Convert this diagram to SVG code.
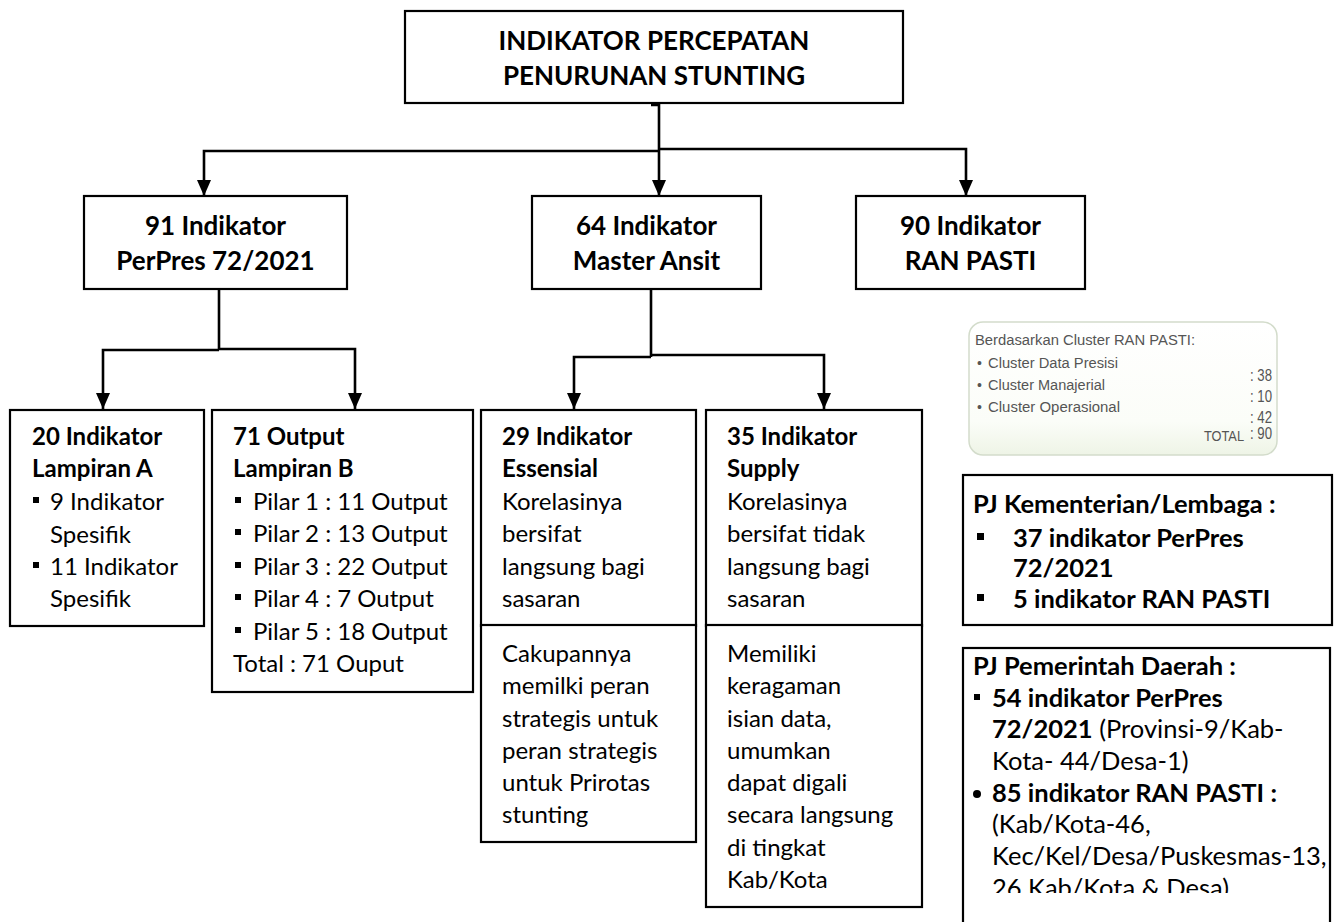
<svg xmlns="http://www.w3.org/2000/svg" width="1338" height="922" viewBox="0 0 1338 922">
<style>
.box{fill:#fff;stroke:#000;stroke-width:2.2}
.t{font-family:Lato,"Open Sans","Liberation Sans",sans-serif;fill:#000}
.b{font-weight:bold}
.h{font-size:26px;font-weight:bold}
.r{font-size:24px}
.pj{font-size:25.5px}
.c{font-family:"Liberation Sans",Arial,sans-serif;font-size:14px;fill:#555}
.n{font-family:"Liberation Sans",Arial,sans-serif;font-size:16px;fill:#555}
.ln{fill:none;stroke:#000;stroke-width:2.6;marker-end:url(#arr)}
.ln0{fill:none;stroke:#000;stroke-width:2.6}
.bul{fill:#000}
</style>
<defs>
<marker id="arr" markerUnits="userSpaceOnUse" viewBox="0 0 16 14" markerWidth="16" markerHeight="14" refX="16" refY="7" orient="auto">
<path d="M0,0 L16,7 L0,14 z" fill="#000"/>
</marker>
<linearGradient id="cardg" x1="0" y1="0" x2="0" y2="1">
<stop offset="0" stop-color="#ffffff"/>
<stop offset="0.75" stop-color="#fbfdf8"/>
<stop offset="1" stop-color="#eef4e6"/>
</linearGradient>
<clipPath id="cut"><rect x="0" y="0" width="1338" height="893"/></clipPath>
</defs>

<g id="top">
<rect class="box" x="405" y="11" width="498" height="92" stroke-width="2.6"/>
<text class="t h" x="654" y="50" text-anchor="middle">INDIKATOR PERCEPATAN</text>
<text class="t h" x="654" y="85" text-anchor="middle">PENURUNAN STUNTING</text>
</g>

<g id="perpres">
<rect class="box" x="84" y="196" width="263" height="93"/>
<text class="t h" x="215.5" y="235" text-anchor="middle">91 Indikator</text>
<text class="t h" x="215.5" y="270" text-anchor="middle">PerPres 72/2021</text>
</g>

<g id="ansit">
<rect class="box" x="532" y="196" width="229" height="93"/>
<text class="t h" x="646.5" y="235" text-anchor="middle">64 Indikator</text>
<text class="t h" x="646.5" y="270" text-anchor="middle">Master Ansit</text>
</g>

<g id="ranpasti">
<rect class="box" x="856" y="196" width="229" height="93"/>
<text class="t h" x="970.5" y="235" text-anchor="middle">90 Indikator</text>
<text class="t h" x="970.5" y="270" text-anchor="middle">RAN PASTI</text>
</g>

<g id="lampiranA">
<rect class="box" x="10" y="410" width="194" height="216"/>
<text class="t r b" x="32" y="445">20 Indikator</text>
<text class="t r b" x="32" y="477">Lampiran A</text>
<rect class="bul" x="33" y="497" width="6" height="6"/>
<text class="t r" x="50" y="510">9 Indikator</text>
<text class="t r" x="50" y="543">Spesifik</text>
<rect class="bul" x="33" y="562" width="6" height="6"/>
<text class="t r" x="50" y="575">11 Indikator</text>
<text class="t r" x="50" y="607">Spesifik</text>
</g>

<g id="lampiranB">
<rect class="box" x="212" y="410" width="261" height="282"/>
<text class="t r b" x="233" y="445">71 Output</text>
<text class="t r b" x="233" y="477">Lampiran B</text>
<rect class="bul" x="235" y="497" width="6" height="6"/>
<text class="t r" x="253" y="510">Pilar 1 : 11 Output</text>
<rect class="bul" x="235" y="529" width="6" height="6"/>
<text class="t r" x="253" y="542">Pilar 2 : 13 Output</text>
<rect class="bul" x="235" y="562" width="6" height="6"/>
<text class="t r" x="253" y="575">Pilar 3 : 22 Output</text>
<rect class="bul" x="235" y="594" width="6" height="6"/>
<text class="t r" x="253" y="607">Pilar 4 : 7 Output</text>
<rect class="bul" x="235" y="627" width="6" height="6"/>
<text class="t r" x="253" y="640">Pilar 5 : 18 Output</text>
<text class="t r" x="233" y="672">Total : 71 Ouput</text>
</g>

<g id="essensial">
<rect class="box" x="481" y="410" width="215" height="216"/>
<text class="t r b" x="502" y="445">29 Indikator</text>
<text class="t r b" x="502" y="477">Essensial</text>
<text class="t r" x="502" y="510">Korelasinya</text>
<text class="t r" x="502" y="542">bersifat</text>
<text class="t r" x="502" y="575">langsung bagi</text>
<text class="t r" x="502" y="607">sasaran</text>
</g>

<g id="essensial-cakupan">
<rect class="box" x="481" y="625" width="215" height="217"/>
<text class="t r" x="502" y="662">Cakupannya</text>
<text class="t r" x="502" y="694">memilki peran</text>
<text class="t r" x="502" y="727">strategis untuk</text>
<text class="t r" x="502" y="759">peran strategis</text>
<text class="t r" x="502" y="791">untuk Prirotas</text>
<text class="t r" x="502" y="823">stunting</text>
</g>

<g id="supply">
<rect class="box" x="706" y="410" width="216" height="216"/>
<text class="t r b" x="727" y="445">35 Indikator</text>
<text class="t r b" x="727" y="477">Supply</text>
<text class="t r" x="727" y="510">Korelasinya</text>
<text class="t r" x="727" y="542">bersifat tidak</text>
<text class="t r" x="727" y="575">langsung bagi</text>
<text class="t r" x="727" y="607">sasaran</text>
</g>

<g id="supply-keragaman">
<rect class="box" x="706" y="625" width="216" height="282"/>
<text class="t r" x="727" y="662">Memiliki</text>
<text class="t r" x="727" y="694">keragaman</text>
<text class="t r" x="727" y="727">isian data,</text>
<text class="t r" x="727" y="759">umumkan</text>
<text class="t r" x="727" y="791">dapat digali</text>
<text class="t r" x="727" y="823">secara langsung</text>
<text class="t r" x="727" y="856">di tingkat</text>
<text class="t r" x="727" y="888">Kab/Kota</text>
</g>

<g id="cluster-card">
<rect x="969" y="322" width="308" height="133" rx="14" fill="url(#cardg)" stroke="#d3dccb" stroke-width="1.5"/>
<text class="c" x="975" y="345" textLength="220" lengthAdjust="spacingAndGlyphs">Berdasarkan Cluster RAN PASTI:</text>
<text class="c" x="977" y="368">•</text>
<text class="c" x="988" y="368" textLength="130" lengthAdjust="spacingAndGlyphs">Cluster Data Presisi</text>
<text class="c" x="977" y="390">•</text>
<text class="c" x="988" y="390" textLength="117" lengthAdjust="spacingAndGlyphs">Cluster Manajerial</text>
<text class="c" x="977" y="412">•</text>
<text class="c" x="988" y="412" textLength="132" lengthAdjust="spacingAndGlyphs">Cluster Operasional</text>
<text class="n" x="1250" y="381" textLength="22" lengthAdjust="spacingAndGlyphs">: 38</text>
<text class="n" x="1250" y="402" textLength="22" lengthAdjust="spacingAndGlyphs">: 10</text>
<text class="n" x="1250" y="423" textLength="22" lengthAdjust="spacingAndGlyphs">: 42</text>
<text class="c" x="1204" y="441" textLength="40" lengthAdjust="spacingAndGlyphs">TOTAL</text>
<text class="n" x="1250" y="439" textLength="22" lengthAdjust="spacingAndGlyphs">: 90</text>
</g>

<g id="pj-kementerian">
<rect class="box" x="963" y="475" width="369" height="150"/>
<text class="t pj b" x="973" y="513">PJ Kementerian/Lembaga :</text>
<rect class="bul" x="977" y="533" width="7" height="7"/>
<text class="t pj b" x="1013" y="547">37 indikator PerPres</text>
<text class="t pj b" x="1013" y="577">72/2021</text>
<rect class="bul" x="977" y="594" width="7" height="7"/>
<text class="t pj b" x="1013" y="608">5 indikator RAN PASTI</text>
</g>

<g id="pj-pemerintah">
<rect class="box" x="963" y="648" width="367" height="300"/>
<text class="t pj b" x="973" y="675">PJ Pemerintah Daerah :</text>
<rect class="bul" x="974" y="694" width="6" height="6"/>
<text class="t pj b" x="992" y="707">54 indikator PerPres</text>
<text class="t pj" x="992" y="738"><tspan class="b">72/2021</tspan> (Provinsi-9/Kab-</text>
<text class="t pj" x="992" y="770">Kota- 44/Desa-1)</text>
<circle class="bul" cx="977" cy="794" r="4"/>
<text class="t pj b" x="992" y="802">85 indikator RAN PASTI :</text>
<text class="t pj" x="992" y="833">(Kab/Kota-46,</text>
<text class="t pj" x="992" y="865">Kec/Kel/Desa/Puskesmas-13,</text>
<text class="t pj" x="992" y="897" clip-path="url(#cut)">26 Kab/Kota &amp; Desa)</text>
</g>

<g id="connectors">
<path class="ln0" d="M651,105 H659 V151"/>
<path class="ln" d="M659,151 H204 V196"/>
<path class="ln" d="M659,151 V196"/>
<path class="ln" d="M659,149 H966 V196"/>
<path class="ln0" d="M219,289 V350" stroke-width="3.2"/>
<path class="ln" d="M219,350 H103 V409"/>
<path class="ln" d="M219,349 H355 V409"/>
<path class="ln0" d="M651,289 V357" stroke-width="3.2"/>
<path class="ln" d="M651,357 H574 V409"/>
<path class="ln" d="M651,355 H824 V409"/>
</g>
</svg>
